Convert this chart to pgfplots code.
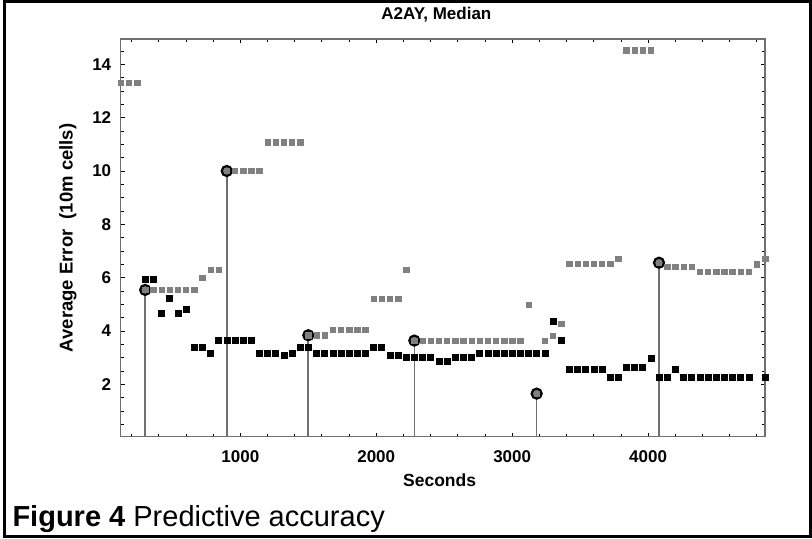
\documentclass[border=0pt]{standalone}
\usepackage{fontspec}
\setmainfont{Liberation Sans}
\usepackage{pgfplots}
\pgfplotsset{compat=1.18}
\definecolor{ptgray}{HTML}{808080}
\definecolor{axgray}{HTML}{707070}
\begin{document}
\begin{tikzpicture}[x=1bp,y=1bp]
\useasboundingbox (0,0) rectangle (812,539);
\draw[line width=3bp] (4,2) rectangle (810,537);
\begin{axis}[
  at={(120.7bp,102.3bp)}, anchor=south west,
  width=644.3bp, height=397.7bp, scale only axis,
  xmin=120, xmax=4860, ymin=0.035, ymax=14.95,
  xtick={1000,2000,3000,4000},
  minor xtick={200,400,...,4800},
  ytick={2,4,...,14},
  minor ytick={0.5,1,...,14.5},
  tick align=inside, major tick length=4bp, minor tick length=3bp,
  axis line style={draw=axgray, line width=1.3bp},
  every tick/.style={black, line width=0.8bp},
  ticklabel style={font=\fontsize{17bp}{20bp}\selectfont\bfseries},
  yticklabel style={xshift=-6bp},
  xticklabel style={yshift=-10bp},
  /pgf/number format/assume math mode=true,
  /pgf/number format/1000 sep={},
  title={A2AY, Median},
  title style={at={(axis description cs:0.49,1.045)}, anchor=center, font=\fontsize{17bp}{20bp}\selectfont\bfseries},
  xlabel={Seconds},
  xlabel style={at={(axis description cs:0.495,-0.1107)}, anchor=center, font=\fontsize{17.5bp}{20bp}\selectfont\bfseries},
  ylabel={Average Error~~(10m cells)},
  ylabel style={at={(axis description cs:-0.0818,0.5)}, anchor=center, font=\fontsize{18.5bp}{20bp}\selectfont\bfseries},
]
% stems with highlighted points
\addplot[ycomb, draw=axgray, line width=1.6bp, mark=*, mark size=5bp,
  mark options={fill=ptgray, draw=black, line width=2.2bp}]
coordinates {(300,5.54) (900,10.0) (1500,3.84) (2280,3.64) (3180,1.65) (4080,6.56)};
% gray series
\addplot[only marks, color=ptgray, mark=square*, mark size=2.7bp, mark options={fill=ptgray, draw=none}]
coordinates {
(120,13.31)(180,13.31)(240,13.31)
(300,5.54)(360,5.54)(420,5.54)(480,5.54)(540,5.54)(600,5.54)(660,5.54)
(720,6.0)(780,6.3)(840,6.3)
(900,10.0)(960,10.0)(1020,10.0)(1080,10.0)(1140,10.0)
(1200,11.08)(1260,11.08)(1320,11.08)(1380,11.08)(1440,11.08)
(1500,3.84)(1560,3.84)(1620,3.84)
(1680,4.05)(1740,4.05)(1800,4.05)(1860,4.05)(1920,4.05)
(1980,5.2)(2040,5.2)(2100,5.2)(2160,5.2)
(2220,6.3)
(2280,3.64)(2340,3.64)(2400,3.64)(2460,3.64)(2520,3.64)(2580,3.64)(2640,3.64)
(2700,3.64)(2760,3.64)(2820,3.64)(2880,3.64)(2940,3.64)(3000,3.64)(3060,3.64)
(3120,4.98)(3180,1.65)(3240,3.64)(3300,3.82)(3360,4.27)
(3420,6.52)(3480,6.52)(3540,6.52)(3600,6.52)(3660,6.52)(3720,6.52)
(3780,6.7)
(3840,14.53)(3900,14.53)(3960,14.53)(4020,14.53)
(4080,6.56)
(4140,6.41)(4200,6.41)(4260,6.41)(4320,6.41)
(4380,6.22)(4440,6.22)(4500,6.22)(4560,6.22)(4620,6.22)(4680,6.22)(4740,6.22)
(4800,6.51)(4860,6.7)
};
% black series
\addplot[only marks, color=black, mark=square*, mark size=3bp, mark options={fill=black, draw=none}]
coordinates {
(300,5.96)(360,5.96)(420,4.65)(480,5.24)(540,4.65)(600,4.80)
(660,3.41)(720,3.41)(780,3.18)
(840,3.64)(900,3.64)(960,3.64)(1020,3.64)(1080,3.64)
(1140,3.18)(1200,3.18)(1260,3.18)(1320,3.11)(1380,3.18)
(1440,3.41)(1500,3.41)
(1560,3.18)(1620,3.18)(1680,3.18)(1740,3.18)(1800,3.18)(1860,3.18)(1920,3.18)
(1980,3.41)(2040,3.41)(2100,3.11)(2160,3.11)
(2220,3.03)(2280,3.03)(2340,3.03)(2400,3.03)
(2460,2.85)(2520,2.85)
(2580,3.03)(2640,3.03)(2700,3.03)
(2760,3.18)(2820,3.18)(2880,3.18)(2940,3.18)(3000,3.18)(3060,3.18)(3120,3.18)(3180,3.18)(3240,3.18)
(3300,4.35)(3360,3.67)
(3420,2.55)(3480,2.55)(3540,2.55)(3600,2.55)(3660,2.55)
(3720,2.25)(3780,2.25)
(3840,2.65)(3900,2.65)(3960,2.65)(4020,2.96)
(4080,2.25)(4140,2.25)(4200,2.55)
(4260,2.25)(4320,2.25)(4380,2.25)(4440,2.25)(4500,2.25)(4560,2.25)(4620,2.25)(4680,2.25)(4740,2.25)
(4860,2.25)
};
\end{axis}
\node[anchor=base west, font=\fontsize{29bp}{32bp}\selectfont] at (9,12) {\textbf{Figure 4} Predictive accuracy};
\end{tikzpicture}
\end{document}
